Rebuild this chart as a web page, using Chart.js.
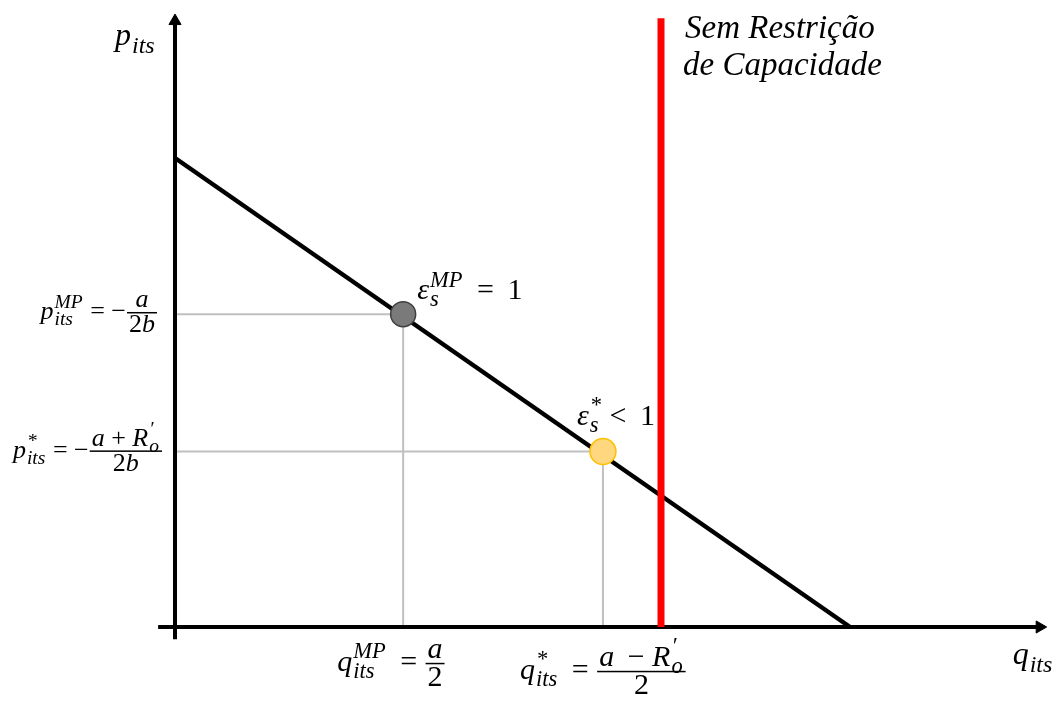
<!DOCTYPE html>
<html>
<head>
<meta charset="utf-8">
<script src="https://cdn.jsdelivr.net/npm/chart.js@4/dist/chart.umd.min.js"></script>
<style>
  html, body { margin: 0; padding: 0; background: #fff; overflow: hidden; }
  canvas { display: block; }
  .pre { position: absolute; left: -2000px; top: 0; font-family: "Liberation Serif", "Times New Roman", serif; }
</style>
</head>
<body>
<div class="pre"><i>pεits Sem Restrição</i> = − 2 &lt; 1</div>
<canvas id="grafico" width="1060" height="702"></canvas>
<script>
// Eixos (com ponta de seta no último ponto)
const eixoX = [{x: -0.25, y: 0}, {x: 12.81, y: 0}];
const eixoY = [{x: 0, y: -0.26}, {x: 0, y: 12.92}];

// Curva de demanda
const demanda = [{x: 0, y: 10}, {x: 10, y: 0}];

// Pontos de equilíbrio
const pontoMP = [{x: 3.38, y: 6.67}];
const pontoEstrela = [{x: 6.34, y: 3.74}];

// Linha vertical "Sem Restrição de Capacidade"
const semRestricao = [{x: 7.2, y: 0}, {x: 7.2, y: 12.98}];

// Linhas guia até os eixos
const guiaMP = [{x: 0, y: 6.67}, {x: 3.38, y: 6.67}, {x: 3.38, y: 0}];
const guiaEstrela = [{x: 0, y: 3.74}, {x: 6.34, y: 3.74}, {x: 6.34, y: 0}];

// Textos matemáticos (partes: texto, índices, frações)
const rotuloP = [{t: 'p', it: true}, {sub: 'its'}];
const rotuloQ = [{t: 'q', it: true}, {sub: 'its'}];
const rotuloPMP = [{t: 'p', it: true}, {sub: 'its', sup: 'MP'}, {t: ' = −'},
  {frac: [[{t: 'a', it: true}], [{t: '2'}, {t: 'b', it: true}]]}];
const rotuloPEstrela = [{t: 'p', it: true}, {sub: 'its', sup: '*'}, {t: ' = −'},
  {frac: [[{t: 'a', it: true}, {t: ' + '}, {t: 'R', it: true}, {sub: 'o', sup: '′'}],
          [{t: '2'}, {t: 'b', it: true}]]}];
const rotuloQMP = [{t: 'q', it: true}, {sub: 'its', sup: 'MP'}, {t: ' \u2009= '},
  {frac: [[{t: 'a', it: true}], [{t: '2'}]]}];
const rotuloQEstrela = [{t: 'q', it: true}, {sub: 'its', sup: '*'}, {t: ' \u2009= '},
  {frac: [[{t: 'a', it: true}, {t: ' \u2009− '}, {t: 'R', it: true}, {sub: 'o', sup: '′'}],
          [{t: '2'}]]}];
const rotuloEpsMP = [{t: 'ε', it: true}, {sub: 's', sup: 'MP'}, {t: ' \u2009=\u2009 1'}];
const rotuloEpsEstrela = [{t: 'ε', it: true}, {sub: 's', sup: '*'}, {t: ' < \u20091'}];
const textoRestricao = ['Sem Restrição', 'de Capacidade'];

// onde cada rótulo fica: ponto âncora (dados) + deslocamento em pixels
const rotulos = [
  {partes: rotuloP, em: eixoY[1], dx: -60, dy: 24, alinhar: 'left', tam: 32},
  {partes: rotuloQ, em: eixoX[1], dx: -27, dy: 37, alinhar: 'left', tam: 32},
  {partes: rotuloPMP, em: pontoMP[0], zeroX: true, dx: -17, dy: 5, alinhar: 'right', tam: 26},
  {partes: rotuloPEstrela, em: pontoEstrela[0], zeroX: true, dx: -12, dy: 6, alinhar: 'right', tam: 26},
  {partes: rotuloQMP, em: pontoMP[0], zeroY: true, dx: -66, dy: 44, alinhar: 'left', tam: 30},
  {partes: rotuloQEstrela, em: pontoEstrela[0], zeroY: true, dx: -83, dy: 52, alinhar: 'left', tam: 30},
  {partes: rotuloEpsMP, em: pontoMP[0], dx: 14, dy: -15, alinhar: 'left', tam: 30},
  {partes: rotuloEpsEstrela, em: pontoEstrela[0], dx: -26, dy: -27, alinhar: 'left', tam: 30}
];

const familia = '"Liberation Serif", "Times New Roman", "DejaVu Serif", serif';

function fonte(tam, it) {
  return (it ? 'italic ' : '') + tam.toFixed(1) + 'px ' + familia;
}

function largura(ctx, partes, tam) {
  let w = 0;
  for (const p of partes) {
    if (p.frac) {
      w += Math.max(largura(ctx, p.frac[0], tam), largura(ctx, p.frac[1], tam)) + 6;
    } else if (p.sub !== undefined || p.sup !== undefined) {
      ctx.font = fonte(tam * 0.75, true);
      w += Math.max(ctx.measureText(p.sub || '').width, ctx.measureText(p.sup || '').width) + 2;
    } else {
      ctx.font = fonte(tam, p.it);
      w += ctx.measureText(p.t).width;
    }
  }
  return w;
}

function desenhar(ctx, partes, x, y, tam) {
  for (const p of partes) {
    if (p.frac) {
      const wn = largura(ctx, p.frac[0], tam);
      const wd = largura(ctx, p.frac[1], tam);
      const w = Math.max(wn, wd) + 6;
      const barra = y - tam * 0.25;
      ctx.fillRect(x + 1, barra - 0.7, w - 2, 1.5);
      desenhar(ctx, p.frac[0], x + (w - wn) / 2, barra - tam * 0.2, tam);
      desenhar(ctx, p.frac[1], x + (w - wd) / 2, barra + tam * 0.76, tam);
      x += w;
    } else if (p.sub !== undefined || p.sup !== undefined) {
      ctx.font = fonte(tam * 0.75, true);
      if (p.sub) ctx.fillText(p.sub, x + 1, y + tam * 0.24);
      if (p.sup) ctx.fillText(p.sup, x + 1, y - tam * 0.42);
      x += Math.max(ctx.measureText(p.sub || '').width, ctx.measureText(p.sup || '').width) + 2;
    } else {
      ctx.font = fonte(tam, p.it);
      ctx.fillText(p.t, x, y);
      x += ctx.measureText(p.t).width;
    }
  }
}

const pluginTextos = {
  id: 'textos',
  afterDatasetsDraw(chart) {
    const ctx = chart.ctx;
    const sx = chart.scales.x, sy = chart.scales.y;
    ctx.save();
    ctx.fillStyle = '#000';
    ctx.textBaseline = 'alphabetic';
    ctx.textAlign = 'left';
    for (const r of rotulos) {
      let x = sx.getPixelForValue(r.zeroX ? 0 : r.em.x) + r.dx;
      const y = sy.getPixelForValue(r.zeroY ? 0 : r.em.y) + r.dy;
      if (r.alinhar === 'right') x -= largura(ctx, r.partes, r.tam);
      desenhar(ctx, r.partes, x, y, r.tam);
    }
    // título da linha vermelha
    const xr = sx.getPixelForValue(semRestricao[1].x);
    const yr = sy.getPixelForValue(semRestricao[1].y);
    ctx.font = 'italic 33px ' + familia;
    ctx.fillText(textoRestricao[0], xr + 24, yr + 20);
    ctx.fillText(textoRestricao[1], xr + 22, yr + 57);
    ctx.restore();
  }
};

function linha(dados, cor, espessura) {
  return {
    data: dados, showLine: true, borderColor: cor, borderWidth: espessura,
    pointRadius: 0, fill: false, tension: 0, borderCapStyle: 'butt'
  };
}

function seta(dados, rotacao) {
  const d = linha(dados, '#000', 4);
  d.pointRadius = [0, 7];
  d.pointStyle = 'triangle';
  d.rotation = rotacao;
  d.pointBackgroundColor = '#000';
  d.pointBorderColor = '#000';
  d.pointBorderWidth = 1;
  return d;
}

const ctx = document.getElementById('grafico').getContext('2d');
const grafico = new Chart(ctx, {
  type: 'scatter',
  data: {
    datasets: [
      {data: pontoMP, pointRadius: 12.5, pointBackgroundColor: '#7a7a7a',
       pointBorderColor: '#3f3f3f', pointBorderWidth: 1.5},
      {data: pontoEstrela, pointRadius: 13, pointBackgroundColor: '#ffd77f',
       pointBorderColor: '#ffc000', pointBorderWidth: 1.5},
      linha(semRestricao, '#ff0000', 7),
      linha(demanda, '#000000', 4.5),
      seta(eixoX, 90),
      seta(eixoY, 0),
      linha(guiaMP, '#c0c0c0', 2),
      linha(guiaEstrela, '#c0c0c0', 2)
    ]
  },
  options: {
    responsive: false,
    animation: false,
    layout: {autoPadding: false, padding: {left: 150, right: 10, top: 10, bottom: 52}},
    plugins: {legend: {display: false}, tooltip: {enabled: false}},
    scales: {
      x: {type: 'linear', display: false, min: -25 / 67.5, max: 875 / 67.5},
      y: {type: 'linear', display: false, min: -23 / 46.9, max: 617 / 46.9}
    }
  },
  plugins: [pluginTextos]
});

// redesenha quando as fontes estiverem prontas
document.fonts.ready.then(() => grafico.draw());
</script>
</body>
</html>
